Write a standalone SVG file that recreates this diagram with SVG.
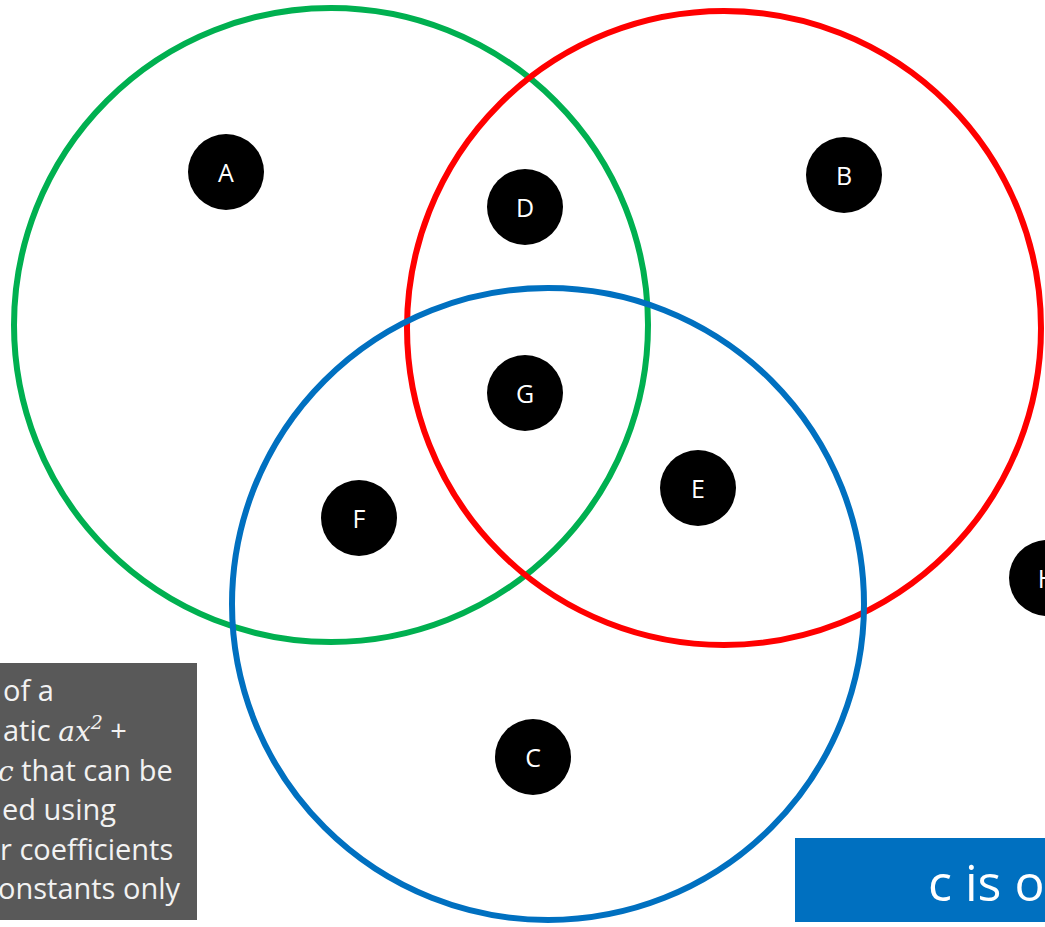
<svg xmlns="http://www.w3.org/2000/svg" width="1045" height="927" viewBox="0 0 1045 927">
<style>
.ring{fill:none;stroke-width:6}
.node circle{fill:#000}
.node text{fill:#fff;font-family:"Open Sans","Noto Sans",sans-serif;font-size:25px;text-anchor:middle;dominant-baseline:central}
.box text{fill:#f2f2f2;font-family:"Open Sans","Noto Sans",sans-serif;font-size:29px}
.math{font-family:"DejaVu Serif","Liberation Serif",serif;font-style:italic}
</style>
<rect width="1045" height="927" fill="#fff"/>
<g id="sets">
<circle class="ring" cx="331" cy="325" r="317" stroke="#00b050"/>
<circle class="ring" cx="724" cy="328" r="317" stroke="#ff0000"/>
<circle class="ring" cx="548" cy="604" r="316" stroke="#0070c0"/>
</g>
<g id="connectors"></g>
<g id="A" class="node"><circle cx="226" cy="172" r="38"/><text x="226" y="172">A</text></g>
<g id="B" class="node"><circle cx="844" cy="175" r="38"/><text x="844" y="175">B</text></g>
<g id="D" class="node"><circle cx="525" cy="207" r="38"/><text x="525" y="207">D</text></g>
<g id="G" class="node"><circle cx="525" cy="393" r="38"/><text x="525" y="393">G</text></g>
<g id="E" class="node"><circle cx="698" cy="488" r="38"/><text x="698" y="488">E</text></g>
<g id="F" class="node"><circle cx="359" cy="518" r="38"/><text x="359" y="518">F</text></g>
<g id="C" class="node"><circle cx="533" cy="757" r="38"/><text x="533" y="757">C</text></g>
<g id="H" class="node"><circle cx="1047" cy="578" r="38"/><text x="1047" y="578">H</text></g>
<g id="note" class="box">
<rect x="-4" y="663" width="201" height="257" fill="#595959"/>
<text x="3" y="701">of a</text>
<text x="3" y="741">atic <tspan class="math" font-size="28">ax</tspan><tspan class="math" font-style="normal" font-size="19" dy="-12">2</tspan><tspan dy="12"> +</tspan></text>
<text x="-2" y="781"><tspan class="math" font-size="28">c</tspan> that can be</text>
<text x="2" y="820">ed using</text>
<text x="0" y="860">r coefficients</text>
<text x="-2" y="899">onstants only</text>
</g>
<g id="banner">
<rect x="795" y="838" width="260" height="84" fill="#0070c0"/>
<text x="928" y="901" fill="#fff" font-family="Open Sans, Noto Sans, sans-serif" font-size="50">c is o</text>
</g>
</svg>
